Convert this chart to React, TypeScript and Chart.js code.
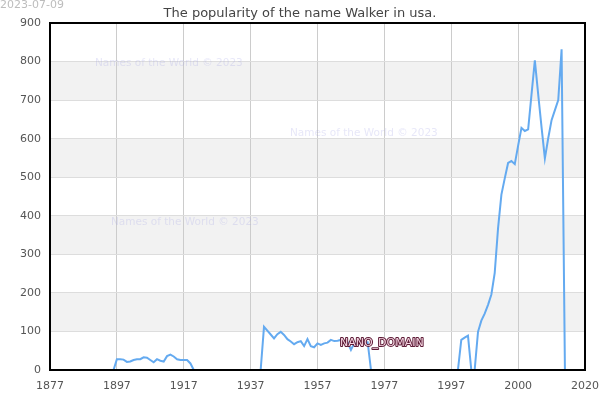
import React, { useEffect, useRef } from "react";
import { Chart, registerables } from "chart.js";

Chart.register(...registerables);

const TITLE = "The popularity of the name Walker in usa.";
const DATE_STAMP = "2023-07-09";
const WATERMARK = "Names of the World © 2023";
const MARKER_LABEL = "NANO_DOMAIN";

// x axis: one position per step, tick every 20 positions
const X_TICK_LABELS = ["1877", "1897", "1917", "1937", "1957", "1977", "1997", "2000", "2020"];
const X_TICK_STEP = 20;
const Y_MAX = 900;
const Y_STEP = 100;

// first position of the series on the x axis
const FIRST_POINT_INDEX = 17;
// popularity values, one per position
const POPULARITY = [
  0, 0, 0,
  28, 28, 27, 21, 22, 26, 28, 28, 33, 32, 26, 20, 28, 24, 22, 36, 40, 35, 28, 26, 26, 26, 17,
  0, 0, 0, 0, 0, 0, 0, 0, 0, 0, 0, 0, 0, 0, 0, 0, 0, 0, 0, 0, 0,
  112, 102, 92, 82, 93, 99, 91, 80, 74, 67, 72, 75, 62, 80, 62, 59, 69, 65, 69, 71, 78, 75, 76, 78,
  73, 72, 52, 70, 66, 72, 72, 72,
  0, 0, 0, 0, 0, 0, 0, 0, 0, 0, 0, 0, 0, 0, 0, 0, 0, 0, 0, 0, 0, 0, 0, 0, 0, 0, 0,
  78, 84, 89, 0, 0,
  99, 128, 146, 169, 196, 252, 368, 455, 497, 537, 542, 534, 582, 628, 620, 624, 714, 803, 715, 630,
  549, 601, 648, 674, 700, 832,
  0, 0, 0,
];

// shaded horizontal bands (value ranges)
const BAND_LOW = [100, 300, 500, 700];
const BAND_HIGH = [200, 400, 600, 800];

// annotation anchor (in axis units)
const MARKER_X = 86.7;
const MARKER_Y = 70;

const FONT = '"DejaVu Sans", sans-serif';

const decorPlugin = {
  id: "decor",
  beforeDraw(chart: any) {
    const { ctx, chartArea } = chart;
    const y = chart.scales.y;
    ctx.save();
    ctx.fillStyle = "#ffffff";
    ctx.fillRect(0, 0, chart.width, chart.height);
    ctx.fillStyle = "#f2f2f2";
    for (let i = 0; i < BAND_LOW.length; i++) {
      const top = y.getPixelForValue(BAND_HIGH[i]);
      const bot = y.getPixelForValue(BAND_LOW[i]);
      ctx.fillRect(chartArea.left, top, chartArea.right - chartArea.left, bot - top);
    }
    ctx.restore();
  },
  beforeDatasetsDraw(chart: any) {
    const { ctx } = chart;
    ctx.save();
    ctx.font = "10.5px " + FONT;
    ctx.fillStyle = "rgba(170,170,230,0.28)";
    ctx.textAlign = "left";
    ctx.textBaseline = "middle";
    ctx.fillText(WATERMARK, 95, 63);
    ctx.fillText(WATERMARK, 290, 133);
    ctx.fillText(WATERMARK, 111, 222);
    ctx.restore();
  },
  afterDatasetsDraw(chart: any) {
    const { ctx, chartArea } = chart;
    ctx.save();
    ctx.strokeStyle = "#000000";
    ctx.lineWidth = 2;
    ctx.strokeRect(chartArea.left, chartArea.top, chartArea.right - chartArea.left, chartArea.bottom - chartArea.top);
    ctx.restore();
  },
  afterDraw(chart: any) {
    const { ctx } = chart;
    const xs = chart.scales.x;
    const ys = chart.scales.y;
    ctx.save();
    // title
    ctx.font = "13px " + FONT;
    ctx.fillStyle = "#444444";
    ctx.textAlign = "center";
    ctx.textBaseline = "alphabetic";
    ctx.fillText(TITLE, 300, 16.5);
    // date stamp
    ctx.font = "11px " + FONT;
    ctx.fillStyle = "#bdbdbd";
    ctx.textAlign = "left";
    ctx.fillText(DATE_STAMP, 0, 7.5);
    // marker label
    ctx.font = "11px " + FONT;
    ctx.textBaseline = "middle";
    ctx.lineJoin = "round";
    ctx.lineWidth = 2;
    ctx.strokeStyle = "#5c1a35";
    const mx = xs.getPixelForValue(MARKER_X);
    const my = ys.getPixelForValue(MARKER_Y);
    ctx.strokeText(MARKER_LABEL, mx, my);
    ctx.fillStyle = "#f5d6e2";
    ctx.fillText(MARKER_LABEL, mx, my);
    ctx.restore();
  },
};

export default function App() {
  const canvasRef = useRef<HTMLCanvasElement | null>(null);

  useEffect(() => {
    if (!canvasRef.current) return;
    const points = POPULARITY.map((v, i) => ({ x: FIRST_POINT_INDEX + i, y: v }));
    const chart = new Chart(canvasRef.current, {
      type: "line",
      data: {
        datasets: [
          {
            data: points,
            borderColor: "rgb(100,170,240)",
            borderWidth: 2,
            pointRadius: 0,
            tension: 0,
            fill: false,
          },
        ],
      },
      options: {
        animation: false,
        responsive: false,
        devicePixelRatio: 1,
        layout: { padding: { top: 23, right: 15, left: 0, bottom: 0 } },
        plugins: {
          legend: { display: false },
          title: { display: false },
          tooltip: { enabled: false },
        },
        scales: {
          x: {
            type: "linear",
            min: 0,
            max: (X_TICK_LABELS.length - 1) * X_TICK_STEP,
            afterFit: (s: any) => {
              s.height = 30;
              s.paddingLeft = 0;
              s.paddingRight = 0;
            },
            border: { display: false },
            grid: {
              color: "#cccccc",
              lineWidth: 1,
              drawTicks: false,
            },
            ticks: {
              stepSize: X_TICK_STEP,
              autoSkip: false,
              maxRotation: 0,
              padding: 10,
              color: "#555555",
              font: { family: FONT, size: 11 },
              callback: (v: any) => X_TICK_LABELS[Math.round(Number(v) / X_TICK_STEP)] ?? "",
            },
          },
          y: {
            min: 0,
            max: Y_MAX,
            afterFit: (s: any) => {
              s.width = 50;
              s.paddingTop = 0;
              s.paddingBottom = 0;
            },
            border: { display: false },
            grid: {
              color: "#dddddd",
              lineWidth: 1,
              drawTicks: false,
            },
            ticks: {
              stepSize: Y_STEP,
              padding: 9,
              color: "#555555",
              font: { family: FONT, size: 11 },
            },
          },
        },
      },
      plugins: [decorPlugin],
    });
    return () => chart.destroy();
  }, []);

  return (
    <div style={{ position: "absolute", left: 0, top: 0, width: 600, height: 400, background: "#fff" }}>
      <canvas ref={canvasRef} width={600} height={400} />
    </div>
  );
}
